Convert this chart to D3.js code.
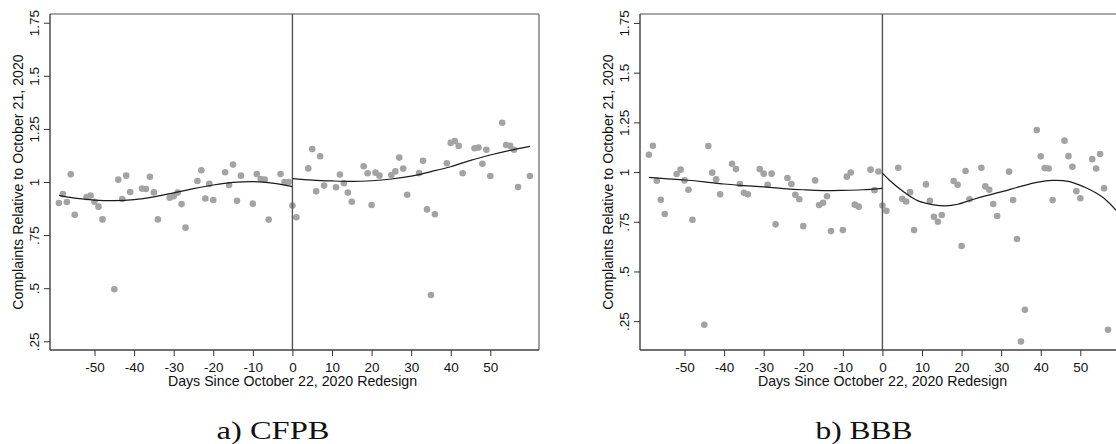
<!DOCTYPE html>
<html>
<head>
<meta charset="utf-8">
<script src="https://cdn.jsdelivr.net/npm/d3@7"></script>
<style>
  body { margin: 0; background: #fff; }
  svg { display: block; }
  text { font-family: "Liberation Sans", Arial, sans-serif; fill: #111; }
</style>
</head>
<body>
<svg id="chart" width="1116" height="444"></svg>
<script>
// Weekdays around the redesign (same days for both panels)
const days = [
  -59, -58, -57, -56, -55, -52, -51, -50, -49, -48, -45, -44, -43, -42, -41,
  -38, -37, -36, -35, -34, -31, -30, -29, -28, -27, -24, -23, -22, -21, -20,
  -17, -16, -15, -14, -13, -10, -9, -8, -7, -6, -3, -2, -1,
  0, 1, 4, 5, 6, 7, 8, 11, 12, 13, 14, 15, 18, 19, 20, 21, 22,
  25, 26, 27, 28, 29, 32, 33, 34, 35, 36, 39, 40, 41, 42, 43,
  46, 47, 48, 49, 50, 53, 54, 55, 56, 57, 60
];

const cfpbValues = [
  0.901, 0.943, 0.906, 1.036, 0.846, 0.929, 0.936, 0.907, 0.884, 0.824,
  0.495, 1.011, 0.920, 1.030, 0.953, 0.969, 0.967, 1.025, 0.951, 0.824,
  0.926, 0.933, 0.950, 0.896, 0.785, 1.005, 1.055, 0.922, 0.991, 0.915,
  1.046, 0.986, 1.082, 0.912, 1.030, 0.898, 1.038, 1.014, 1.011, 0.823,
  1.038, 1.000, 1.000,
  0.889, 0.834, 1.064, 1.155, 0.956, 1.121, 0.983, 0.975, 1.035, 0.994,
  0.950, 0.907, 1.074, 1.041, 0.892, 1.044, 1.030, 1.033, 1.050, 1.115,
  1.063, 0.940, 1.042, 1.100, 0.871, 0.468, 0.848, 1.088, 1.184, 1.193,
  1.170, 1.041, 1.159, 1.162, 1.086, 1.152, 1.028, 1.279, 1.174, 1.170,
  1.152, 0.976, 1.028
];

const bbbValues = [
  1.087, 1.132, 0.956, 0.861, 0.789, 0.990, 1.012, 0.958, 0.911, 0.760,
  0.232, 1.131, 0.997, 0.963, 0.888, 1.042, 1.015, 0.940, 0.896, 0.888,
  1.015, 0.992, 0.936, 0.992, 0.737, 0.970, 0.940, 0.886, 0.863, 0.728,
  0.958, 0.834, 0.846, 0.878, 0.703, 0.708, 0.977, 0.998, 0.836, 0.826,
  1.012, 0.909, 1.003,
  0.832, 0.805, 1.022, 0.866, 0.852, 0.899, 0.708, 0.938, 0.856, 0.775,
  0.750, 0.784, 0.955, 0.936, 0.628, 1.005, 0.863, 1.022, 0.928, 0.911,
  0.839, 0.779, 1.002, 0.859, 0.663, 0.148, 0.307, 1.211, 1.079, 1.020,
  1.018, 0.859, 1.158, 1.080, 1.027, 0.904, 0.868, 1.065, 1.018, 1.091,
  0.918, 0.207, 0.700
];

// Fitted curves
const cfpbFitPreDays = [-59, -55, -50, -45, -40, -35, -30, -25, -20, -15, -10, -5, 0];
const cfpbFitPre = [0.937, 0.924, 0.915, 0.912, 0.917, 0.930, 0.949, 0.969, 0.986, 0.998, 1.002, 0.995, 0.978];
const cfpbFitPostDays = [0, 5, 10, 15, 20, 25, 30, 35, 40, 45, 50, 55, 60];
const cfpbFitPost = [1.016, 1.009, 1.005, 1.003, 1.006, 1.014, 1.028, 1.049, 1.072, 1.102, 1.127, 1.149, 1.168];

const bbbFitPreDays = [-59, -55, -50, -45, -40, -35, -30, -25, -20, -15, -10, -5, 0];
const bbbFitPre = [0.973, 0.967, 0.960, 0.951, 0.940, 0.932, 0.925, 0.917, 0.911, 0.907, 0.908, 0.911, 0.918];
const bbbFitPostDays = [0, 2, 5, 9, 13, 16, 19, 22, 26, 30, 35, 39, 43, 47, 51, 54, 56, 59, 62];
const bbbFitPost = [0.995, 0.955, 0.906, 0.855, 0.835, 0.830, 0.838, 0.857, 0.880, 0.900, 0.928, 0.948, 0.958, 0.953, 0.925, 0.895, 0.868, 0.809, 0.740];

const xTicks = [-50, -40, -30, -20, -10, 0, 10, 20, 30, 40, 50];
const xTickLabels = ['-50', '-40', '-30', '-20', '-10', '0', '10', '20', '30', '40', '50'];
const yTicks = [0.25, 0.5, 0.75, 1, 1.25, 1.5, 1.75];
const yTickLabels = ['.25', '.5', '.75', '1', '1.25', '1.5', '1.75'];

const svg = d3.select('#chart');

function drawPanel(offsetX, id, values, fitPreDays, fitPre, fitPostDays, fitPost, yDomain, caption, captionX, captionLen) {
    const left = 50, right = 539, top = 14, bottom = 350;
    const g = svg.append('g').attr('transform', `translate(${offsetX},0)`);

    const x = d3.scaleLinear().domain([-61.25, 62.3]).range([left, right]);
    const y = d3.scaleLinear().domain(yDomain).range([bottom, top]);

    g.append('clipPath').attr('id', 'clip-' + id)
        .append('rect').attr('x', left).attr('y', top)
        .attr('width', right - left).attr('height', bottom - top);

    // frame: top and right lighter
    g.append('line').attr('x1', left).attr('x2', right).attr('y1', top).attr('y2', top)
        .attr('stroke', '#8a8a8a').attr('stroke-width', 1.6);
    g.append('line').attr('x1', right).attr('x2', right).attr('y1', top).attr('y2', bottom)
        .attr('stroke', '#8a8a8a').attr('stroke-width', 1.6);

    const plot = g.append('g').attr('clip-path', `url(#clip-${id})`);

    plot.selectAll('circle')
        .data(days.map((d, i) => [d, values[i]]))
        .enter()
        .append('circle')
        .attr('cx', d => x(d[0]))
        .attr('cy', d => y(d[1]))
        .attr('r', 3.3)
        .attr('fill', '#a3a3a3');

    // redesign line
    plot.append('line')
        .attr('x1', x(0)).attr('x2', x(0)).attr('y1', top).attr('y2', bottom)
        .attr('stroke', '#555').attr('stroke-width', 1.4);

    const line = d3.line()
        .x(d => x(d[0]))
        .y(d => y(d[1]))
        .curve(d3.curveCatmullRom);

    plot.append('path')
        .datum(fitPreDays.map((d, i) => [d, fitPre[i]]))
        .attr('d', line)
        .attr('fill', 'none').attr('stroke', '#1a1a1a').attr('stroke-width', 1.2);
    plot.append('path')
        .datum(fitPostDays.map((d, i) => [d, fitPost[i]]))
        .attr('d', line)
        .attr('fill', 'none').attr('stroke', '#1a1a1a').attr('stroke-width', 1.2);

    // axes
    const yAxis = g.append('g')
        .attr('transform', `translate(${left},0)`)
        .call(d3.axisLeft(y).tickValues(yTicks).tickSize(6)
            .tickFormat((d, i) => yTickLabels[i]));
    yAxis.select('.domain').attr('stroke', '#404040').attr('stroke-width', 1.4)
        .attr('d', `M0,${top}V${bottom}`);
    yAxis.selectAll('.tick line').attr('stroke', '#333');
    yAxis.selectAll('.tick text')
        .attr('transform', 'rotate(-90)')
        .attr('x', 0).attr('y', -11).attr('dy', 0)
        .attr('text-anchor', 'middle')
        .style('font-size', '13.5px')
        .style('font-family', '"Liberation Sans", Arial, sans-serif')
        .attr('fill', '#111');

    const xAxis = g.append('g')
        .attr('transform', `translate(0,${bottom})`)
        .call(d3.axisBottom(x).tickValues(xTicks).tickSize(6).tickPadding(6)
            .tickFormat((d, i) => xTickLabels[i]));
    xAxis.select('.domain').attr('stroke', '#404040').attr('stroke-width', 1.4)
        .attr('d', `M${left},0H${right}`);
    xAxis.selectAll('.tick line').attr('stroke', '#333');
    xAxis.selectAll('.tick text')
        .style('font-size', '13.5px')
        .style('font-family', '"Liberation Sans", Arial, sans-serif')
        .attr('fill', '#111');

    // titles
    g.append('text')
        .attr('x', (left + right) / 2 - 2).attr('y', 386)
        .attr('text-anchor', 'middle')
        .style('font-size', '14.2px')
        .text('Days Since October 22, 2020 Redesign');

    g.append('text')
        .attr('transform', `translate(23,${(top + bottom) / 2}) rotate(-90)`)
        .attr('text-anchor', 'middle')
        .style('font-size', '14.2px')
        .text('Complaints Relative to October 21, 2020');

    g.append('text')
        .attr('x', captionX).attr('y', 439)
        .attr('text-anchor', 'middle')
        .attr('textLength', captionLen)
        .attr('lengthAdjust', 'spacingAndGlyphs')
        .style('font-family', '"Liberation Serif", "DejaVu Serif", serif')
        .style('font-size', '26px')
        .text(caption);
}

drawPanel(0, 'cfpb', cfpbValues, cfpbFitPreDays, cfpbFitPre, cfpbFitPostDays, cfpbFitPost,
    [0.209, 1.791], 'a) CFPB', 273, 113);
drawPanel(590, 'bbb', bbbValues, bbbFitPreDays, bbbFitPre, bbbFitPostDays, bbbFitPost,
    [0.105, 1.795], 'b) BBB', 274, 97);
</script>
</body>
</html>
